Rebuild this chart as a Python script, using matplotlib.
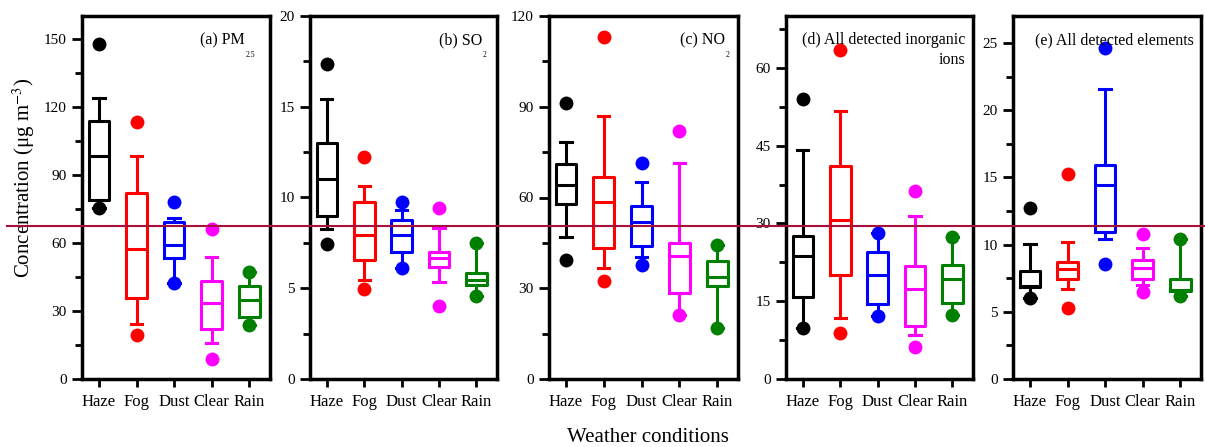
import matplotlib
matplotlib.use('Agg')
import matplotlib.pyplot as plt
from matplotlib.lines import Line2D
from matplotlib.ticker import MultipleLocator

plt.rcParams['font.family'] = ['Liberation Serif', 'DejaVu Serif']
plt.rcParams['mathtext.fontset'] = 'stix'

CATEGORIES = ['Haze', 'Fog', 'Dust', 'Clear', 'Rain']
COLORS = ['#000000', '#FF0000', '#0000FF', '#FF00FF', '#008000']

# each row: [whisker low, q1, median, q3, whisker high]
PM25_BOX = [[75.2, 79.0, 98.2, 113.6, 124.0],
            [24.3, 35.9, 57.2, 81.8, 98.4],
            [42.3, 53.2, 59.2, 69.0, 70.8],
            [15.8, 22.0, 33.4, 43.0, 53.6],
            [23.8, 27.3, 34.9, 41.2, 47.1]]
PM25_OUT = [[75.2, 147.5], [19.5, 113.2], [42.3, 77.8], [8.9, 66.0], [23.8, 47.1]]

SO2_BOX = [[8.24, 8.97, 11.03, 13.01, 15.44],
           [5.48, 6.53, 7.94, 9.76, 10.63],
           [6.12, 7.00, 7.94, 8.75, 9.30],
           [5.33, 6.18, 6.67, 7.00, 8.33],
           [4.56, 5.20, 5.44, 5.85, 7.50]]
SO2_OUT = [[7.44, 17.33], [4.96, 12.24], [6.12, 9.76], [4.01, 9.41], [4.56, 7.50]]

NO2_BOX = [[46.9, 57.9, 64.2, 71.0, 78.3],
           [36.7, 43.3, 58.6, 66.8, 86.8],
           [40.4, 44.1, 51.8, 57.1, 65.1],
           [21.0, 28.5, 40.6, 44.8, 71.5],
           [16.9, 30.6, 33.6, 38.9, 44.3]]
NO2_OUT = [[39.5, 91.1], [32.3, 113.2], [37.8, 71.5], [21.0, 81.9], [16.9, 44.3]]

IONS_BOX = [[9.8, 15.9, 23.7, 27.5, 44.2],
            [11.7, 20.1, 30.7, 41.1, 51.7],
            [12.2, 14.5, 20.0, 24.5, 28.1],
            [8.5, 10.3, 17.3, 21.8, 31.5],
            [12.4, 14.6, 19.3, 22.0, 27.4]]
IONS_OUT = [[9.8, 53.9], [8.9, 63.4], [12.2, 28.1], [6.1, 36.2], [12.4, 27.4]]

ELEM_BOX = [[6.03, 6.85, 6.95, 8.06, 10.04],
            [6.72, 7.44, 8.18, 8.68, 10.16],
            [10.44, 10.91, 14.43, 15.95, 21.58],
            [7.02, 7.44, 8.26, 8.82, 9.75],
            [6.20, 6.52, 6.60, 7.46, 10.42]]
ELEM_OUT = [[6.03, 12.72], [5.28, 15.28], [8.53, 24.6], [6.47, 10.81], [6.20, 10.42]]

PANELS = [
    # box, outliers, ylim top, major, minor, label, subscript
    (PM25_BOX, PM25_OUT, 160, 30, 15, '(a) PM', '2.5'),
    (SO2_BOX, SO2_OUT, 20, 5, 2.5, '(b) SO', '2'),
    (NO2_BOX, NO2_OUT, 120, 30, 15, '(c) NO', '2'),
    (IONS_BOX, IONS_OUT, 70, 15, 7.5, '(d) All detected inorganic\nions', None),
    (ELEM_BOX, ELEM_OUT, 27, 5, 2.5, '(e) All detected elements', None),
]

W, H = 1205, 447
AX_LEFT = [82, 310, 549, 786, 1013]
AX_W = [188, 187, 189, 187, 188]
AX_TOP, AX_BOT = 16, 379
LABEL_X = [0.867, 0.92, 0.93, 0.957, 0.963]

fig = plt.figure(figsize=(W / 100, H / 100), dpi=100)

positions = list(range(1, len(CATEGORIES) + 1))
for i, (box, out, ytop, major, minor, label, sub) in enumerate(PANELS):
    ax = fig.add_axes([AX_LEFT[i] / W, 1 - AX_BOT / H, AX_W[i] / W, (AX_BOT - AX_TOP) / H])
    stats = [dict(whislo=b[0], q1=b[1], med=b[2], q3=b[3], whishi=b[4], fliers=o)
             for b, o in zip(box, out)]
    art = ax.bxp(stats, positions=positions, widths=0.55, capwidths=0.3,
                 boxprops=dict(linewidth=2.2), whiskerprops=dict(linewidth=2.2),
                 capprops=dict(linewidth=2.2), medianprops=dict(linewidth=2.2),
                 flierprops=dict(marker='o', markersize=10, markeredgewidth=0))
    for j, c in enumerate(COLORS):
        art['boxes'][j].set_color(c)
        art['medians'][j].set_color(c)
        for k in (2 * j, 2 * j + 1):
            art['whiskers'][k].set_color(c)
            art['caps'][k].set_color(c)
        art['fliers'][j].set_markerfacecolor(c)
        art['fliers'][j].set_zorder(3)

    ax.set_xlim(0.55, 5.55)
    ax.set_ylim(0, ytop)
    ax.set_xticks(positions)
    ax.set_xticklabels(CATEGORIES, fontsize=12)
    ax.yaxis.set_major_locator(MultipleLocator(major))
    ax.yaxis.set_minor_locator(MultipleLocator(minor))
    ax.tick_params(axis='both', which='both', direction='out', width=2)
    ax.tick_params(axis='y', which='major', length=7, pad=4, labelsize=11)
    ax.tick_params(axis='y', which='minor', length=5)
    ax.tick_params(axis='x', which='major', length=6, pad=5)
    for s in ax.spines.values():
        s.set_linewidth(2.5)

    t = ax.text(LABEL_X[i], 0.955, label, transform=ax.transAxes, ha='right', va='top',
                multialignment='right', fontsize=11.5, linespacing=1.3)
    if sub:
        ax.annotate(sub, xy=(1, 0), xycoords=t, xytext=(0.5, -2), textcoords='offset points',
                    ha='left', va='top', fontsize=5.5)

    if i == 0:
        ax.set_ylabel(r'Concentration (μg m$^{-3}$)', fontsize=15)
        ax.yaxis.set_label_coords(-0.24, 0.555)

fig.text(0.538, 0.022, 'Weather conditions', ha='center', va='center', fontsize=15)
fig.add_artist(Line2D([0.006, 1.0], [0.494, 0.494], color='#A8103C', linewidth=1.5))

fig.savefig('out.png', dpi=100)
